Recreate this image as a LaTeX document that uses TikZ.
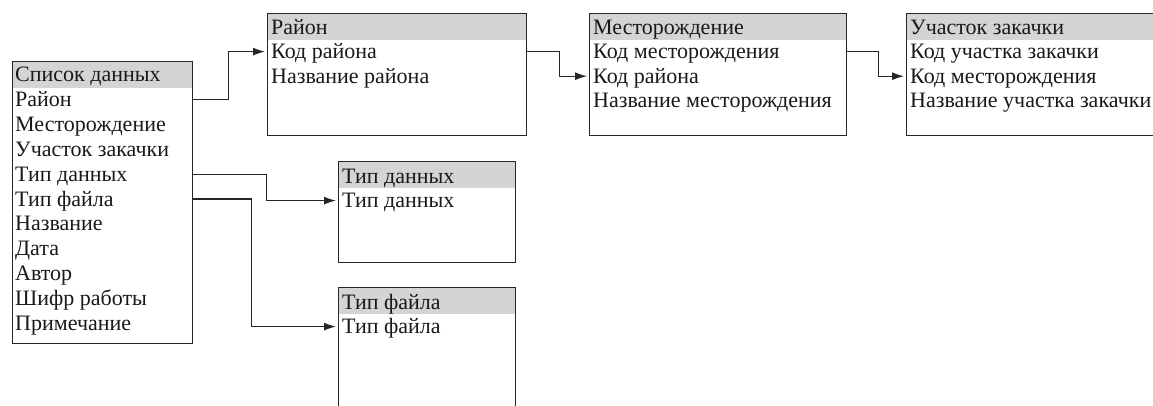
\documentclass[tikz,border=0pt]{standalone}
\usepackage{fontspec}
\setmainfont{Liberation Serif}
\usetikzlibrary{arrows.meta,positioning,calc}

\begin{document}
\begin{tikzpicture}[x=1pt,y=-1pt,>={Latex[length=12pt,width=8pt]},
  table/.style={draw=black!85,line width=1.2pt,anchor=north west,inner sep=0pt,
    path picture={\fill[black!17] (path picture bounding box.north west)
      rectangle ([yshift=-26pt]path picture bounding box.north east);}},
  row/.style={anchor=west,inner sep=0pt,text height=14pt,text depth=0pt,
    text=black!90,font=\fontsize{22}{24}\selectfont},
  link/.style={->,black!85,line width=1.2pt,shorten >=2pt}]
  \clip (0,0) rectangle (1153,405);
  % tables
  \node[table,minimum width=180pt,minimum height=282pt] (list) at (12,61) {};
  \node[table,minimum width=259pt,minimum height=122pt] (rayon) at (267,13) {};
  \node[table,minimum width=257pt,minimum height=122pt] (mest) at (589,13) {};
  \node[table,minimum width=290pt,minimum height=122pt] (uch) at (906,13) {};
  \node[table,minimum width=177pt,minimum height=101pt] (tipd) at (338,161) {};
  \node[table,minimum width=177pt,minimum height=140pt] (tipf) at (338,287) {};
  % fields
  \foreach \txt [count=\i from 0] in {Список данных,Район,Месторождение,
      Участок закачки,Тип данных,Тип файла,Название,Дата,Автор,
      Шифр работы,Примечание}
    \node[row] (list-\i) at ($(list.north west)+(3,13.5+24.9*\i)$) {\txt};
  \foreach \txt [count=\i from 0] in {Район,Код района,Название района}
    \node[row] (rayon-\i) at ($(rayon.north west)+(4,14+24.6*\i)$) {\txt};
  \foreach \txt [count=\i from 0] in {Месторождение,Код месторождения,
      Код района,Название месторождения}
    \node[row] (mest-\i) at ($(mest.north west)+(4,14+24.6*\i)$) {\txt};
  \foreach \txt [count=\i from 0] in {Участок закачки,Код участка закачки,
      Код месторождения,Название участка закачки}
    \node[row] (uch-\i) at ($(uch.north west)+(4,14+24.6*\i)$) {\txt};
  \foreach \txt [count=\i from 0] in {Тип данных,Тип данных}
    \node[row] (tipd-\i) at ($(tipd.north west)+(4,15+24.6*\i)$) {\txt};
  \foreach \txt [count=\i from 0] in {Тип файла,Тип файла}
    \node[row] (tipf-\i) at ($(tipf.north west)+(4,15+24.6*\i)$) {\txt};
  % links
  \draw[link] (list.east |- list-1) -- ++(35,0) |- (rayon.west |- rayon-1);
  \draw[link] (rayon.east |- rayon-1) -- ++(32,0) |- (mest.west |- mest-2);
  \draw[link] (mest.east |- mest-1) -- ++(31,0) |- (uch.west |- uch-2);
  \draw[link] (list.east |- list-4) -- ++(73,0) |- (tipd.west |- tipd-1);
  \draw[link] (list.east |- list-5) -- ++(58,0) |- (tipf.west |- tipf-1);
\end{tikzpicture}
\end{document}
